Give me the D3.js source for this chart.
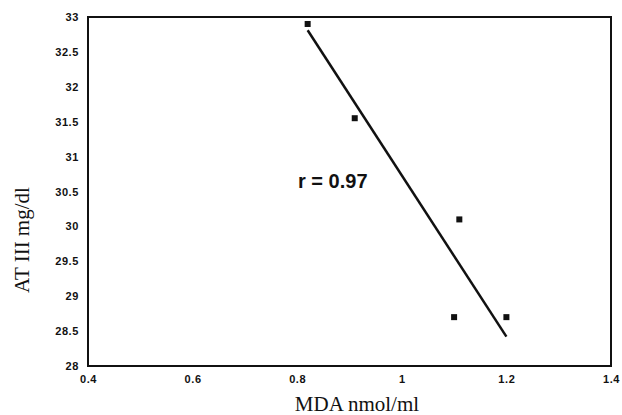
<!DOCTYPE html>
<html>
<head>
<meta charset="utf-8">
<script src="https://cdn.jsdelivr.net/npm/d3@7"></script>
<style>
  html, body { margin: 0; padding: 0; background: #fff; }
  svg { display: block; }
</style>
</head>
<body>
<svg id="chart" width="622" height="415"></svg>
<script>
// MDA (nmol/ml) against AT III (mg/dl)
const mdaValues = [0.82, 0.91, 1.11, 1.10, 1.20];
const at3Values = [32.9, 31.55, 30.1, 28.7, 28.7];

// fitted regression line end points
const fitX = [0.82, 1.20];
const fitY = [32.81, 28.42];

const xTicks = [0.4, 0.6, 0.8, 1, 1.2, 1.4];
const yTicks = [28, 28.5, 29, 29.5, 30, 30.5, 31, 31.5, 32, 32.5, 33];

const corrLabel = "r = 0.97";

const svg = d3.select("#chart");
const plot = { left: 88, right: 611, top: 17, bottom: 366 };

const x = d3.scaleLinear().domain([0.4, 1.4]).range([plot.left, plot.right]);
const y = d3.scaleLinear().domain([28, 33]).range([plot.bottom, plot.top]);

// frame
svg.append("rect")
  .attr("x", plot.left).attr("y", plot.top)
  .attr("width", plot.right - plot.left).attr("height", plot.bottom - plot.top)
  .attr("fill", "none").attr("stroke", "#111").attr("stroke-width", 2);

const tickFont = "Arial, 'Liberation Sans', sans-serif";

// y axis labels
const yAxis = d3.axisLeft(y).tickValues(yTicks).tickSize(0).tickPadding(9)
  .tickFormat(d => String(d));
const gy = svg.append("g").attr("transform", `translate(${plot.left},0)`).call(yAxis);
gy.select(".domain").remove();
gy.selectAll("text")
  .attr("font-family", tickFont)
  .attr("font-weight", "bold").attr("font-size", 11).attr("letter-spacing", 0.6)
  .attr("fill", "#111");

// x axis labels
const xAxis = d3.axisBottom(x).tickValues(xTicks).tickSize(0).tickPadding(9)
  .tickFormat(d => String(d));
const gx = svg.append("g").attr("transform", `translate(0,${plot.bottom})`).call(xAxis);
gx.select(".domain").remove();
gx.selectAll("text")
  .attr("font-family", tickFont)
  .attr("font-weight", "bold").attr("font-size", 11).attr("letter-spacing", 0.6)
  .attr("fill", "#111");

// axis titles
svg.append("text")
  .attr("x", 357).attr("y", 411)
  .attr("text-anchor", "middle")
  .attr("font-family", "'Liberation Serif', 'Times New Roman', serif")
  .attr("font-size", 21).attr("fill", "#111")
  .text("MDA nmol/ml");

svg.append("text")
  .attr("transform", "translate(29,240) rotate(-90)")
  .attr("text-anchor", "middle")
  .attr("font-family", "'Liberation Serif', 'Times New Roman', serif")
  .attr("font-size", 21).attr("fill", "#111")
  .text("AT III mg/dl");

// regression line
svg.append("line")
  .attr("x1", x(fitX[0])).attr("y1", y(fitY[0]))
  .attr("x2", x(fitX[1])).attr("y2", y(fitY[1]))
  .attr("stroke", "#111").attr("stroke-width", 2.5);

// points
const pts = mdaValues.map((v, i) => ({ mda: v, at3: at3Values[i] }));
svg.selectAll("rect.pt").data(pts).enter().append("rect")
  .attr("class", "pt")
  .attr("x", d => x(d.mda) - 3).attr("y", d => y(d.at3) - 3)
  .attr("width", 6).attr("height", 6)
  .attr("fill", "#111");

// correlation label
svg.append("text")
  .attr("x", 298).attr("y", 188)
  .attr("font-family", "Arial, 'Liberation Sans', sans-serif")
  .attr("font-weight", "bold").attr("font-size", 20).attr("fill", "#111")
  .text(corrLabel);
</script>
</body>
</html>
